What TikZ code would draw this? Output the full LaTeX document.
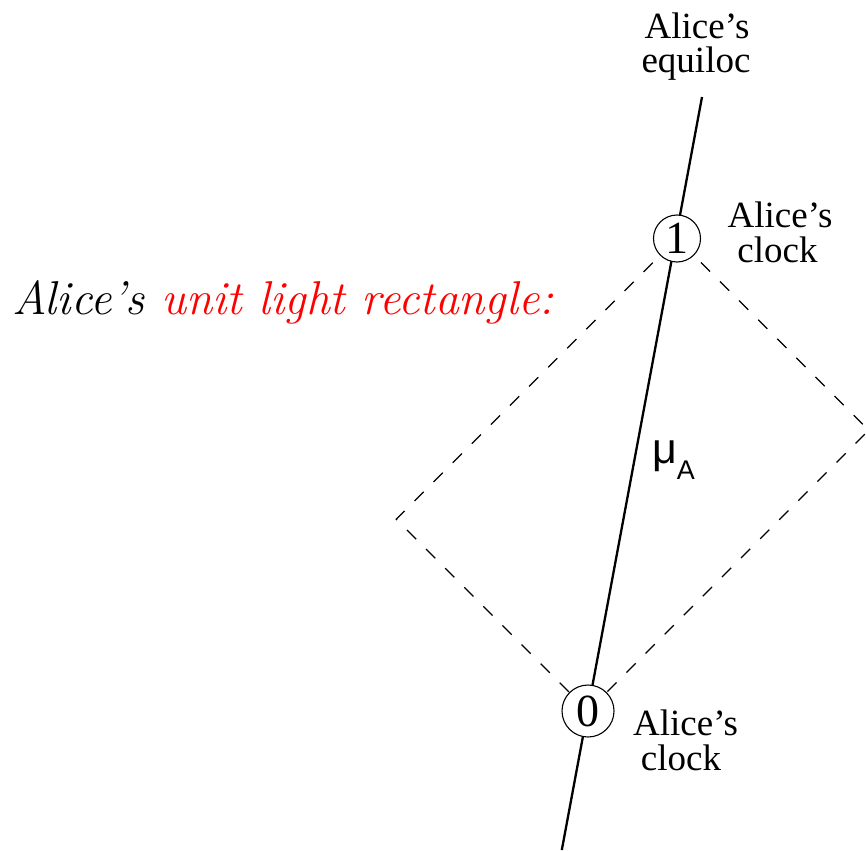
\documentclass[tikz,border=0pt]{standalone}
\usepackage{fontspec}
\newfontfamily\timesfont{Liberation Serif}
\newfontfamily\sansf{Liberation Sans}
\tikzset{
  lbl/.style={font=\timesfont\fontsize{37}{35}\selectfont, inner sep=0pt, anchor=base},
  clk/.style={circle, draw, fill=white, line width=1.1pt, inner sep=0pt,
              font=\timesfont\fontsize{46}{46}\selectfont},
  worldline/.style={line width=2.3pt},
  lightrect/.style={line width=1.1pt, dash pattern=on 13pt off 14pt},
}
\begin{document}
\begin{tikzpicture}[x=1pt,y=-1pt]
\useasboundingbox (0,0) rectangle (866,850);
\coordinate (bot) at (561.8,850);
\coordinate (top) at (702,97);
\coordinate (L) at (396.25,519.25);
\coordinate (R) at (868.75,430.25);
\coordinate (P0) at (588,711);
\coordinate (P1) at (677,238.5);
\draw[worldline] (bot) -- (top);
\draw[lightrect] (P0) -- (L) -- (P1) -- (R) -- cycle;
\node[clk, minimum size=52pt] (c0) at (P0) {0};
\node[clk, minimum size=47pt] (c1) at (P1) {1};
% labels
\node[lbl] (eqA) at (697,39) {Alice’s};
\node[lbl] (eqB) at (696,73) {equiloc};
\node[lbl] (k1A) at (780,227) {Alice’s};
\node[lbl] (k1B) at (777.5,262) {clock};
\node[lbl] (k0A) at (685.5,735) {Alice’s};
\node[lbl] (k0B) at (681,770) {clock};
\node[anchor=base west, inner sep=0pt, font=\fontsize{47.5}{47.5}\selectfont\itshape]
  (title) at (12,314) {Alice’s \textcolor{red}{unit light rectangle:}};
\node[anchor=base west, inner sep=0pt, font=\sansf\fontsize{43}{43}\selectfont]
  (mu) at (652,463) {μ\raisebox{-16pt}{\fontsize{27}{27}\selectfont A}};
\end{tikzpicture}
\end{document}
